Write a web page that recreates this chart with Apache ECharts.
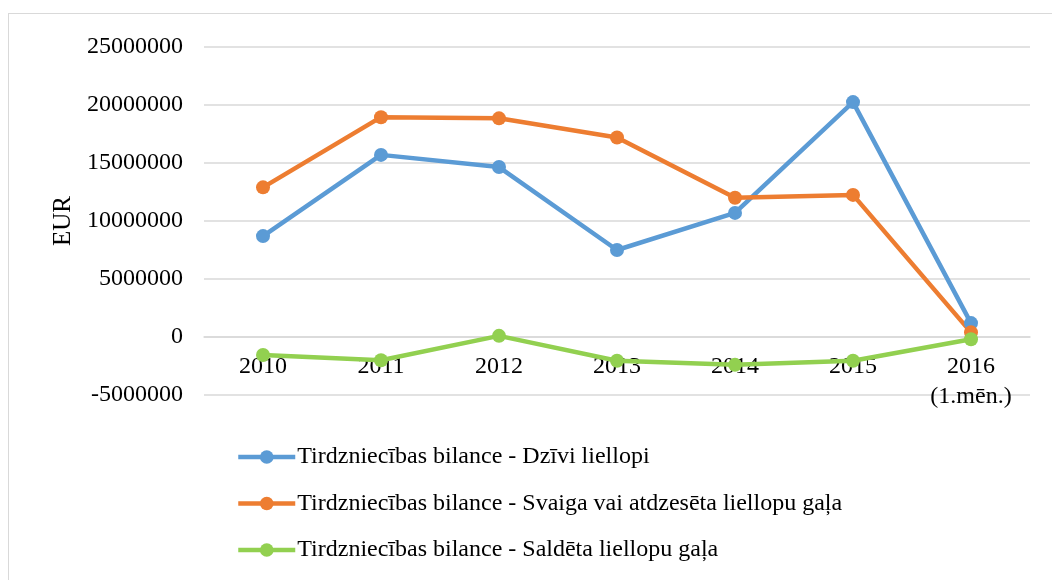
<!DOCTYPE html>
<html>
<head>
<meta charset="utf-8">
<script src="https://cdn.jsdelivr.net/npm/echarts@6/dist/echarts.min.js"></script>
<style>
html,body{margin:0;padding:0;background:#fff;}
#main{width:1052px;height:580px;}
#frame{position:absolute;left:8px;top:13px;width:1060px;height:600px;border:1.5px solid #d9d9d9;box-sizing:border-box;pointer-events:none;}
</style>
</head>
<body>
<div id="main"></div>
<div id="frame"></div>
<script>
var years = ['2010', '2011', '2012', '2013', '2014', '2015', '2016\n(1.mēn.)'];
var dzivi = [8700000, 15700000, 14650000, 7500000, 10700000, 20250000, 1200000];
var svaiga = [12900000, 18950000, 18850000, 17200000, 12000000, 12250000, 400000];
var saldeta = [-1550000, -2000000, 100000, -2050000, -2400000, -2050000, -200000];
var names = [
    'Tirdzniecības bilance - Dzīvi liellopi',
    'Tirdzniecības bilance - Svaiga vai atdzesēta liellopu gaļa',
    'Tirdzniecības bilance - Saldēta liellopu gaļa'
];
var colors = ['#5b9bd5', '#ed7d31', '#92d050'];

var font = 'Liberation Serif, Times New Roman, serif';
var dom = document.getElementById('main');
var myChart = echarts.init(dom);

function line(name, data, color) {
    return {
        name: name,
        type: 'line',
        data: data,
        symbol: 'circle',
        symbolSize: 14,
        lineStyle: {width: 4.5, color: color},
        itemStyle: {color: color}
    };
}

var option = {
    animation: false,
    color: colors,
    grid: {
        left: 204,
        right: 22,
        top: 47,
        bottom: 185
    },
    legend: {
        orient: 'vertical',
        left: 231,
        top: 440,
        itemWidth: 57,
        itemHeight: 17,
        itemGap: 22.5,
        lineStyle: {width: 4.5},
        textStyle: {fontFamily: font, fontSize: 24, color: '#000', padding: [0, 0, 0, -3]},
        data: names
    },
    xAxis: {
        type: 'category',
        data: years,
        offset: -58,
        axisLine: {show: true, onZero: false, lineStyle: {color: '#d9d9d9', width: 1.5}},
        axisTick: {show: false},
        axisLabel: {
            fontFamily: font,
            fontSize: 24,
            color: '#000',
            margin: 15,
            lineHeight: 30
        }
    },
    yAxis: {
        type: 'value',
        min: -5000000,
        max: 25000000,
        interval: 5000000,
        name: 'EUR',
        nameLocation: 'middle',
        nameGap: 124,
        nameTextStyle: {fontFamily: font, fontSize: 25, color: '#000'},
        axisLine: {show: false},
        axisTick: {show: false},
        axisLabel: {
            fontFamily: font, fontSize: 24, color: '#000', margin: 21,
            formatter: function (v) { return String(v); }
        },
        splitLine: {lineStyle: {color: '#d9d9d9', width: 1.5}}
    },
    series: [
        line(names[0], dzivi, colors[0]),
        line(names[1], svaiga, colors[1]),
        line(names[2], saldeta, colors[2])
    ]
};

if (option && typeof option === "object") {
    myChart.setOption(option, true);
}
</script>
</body>
</html>
